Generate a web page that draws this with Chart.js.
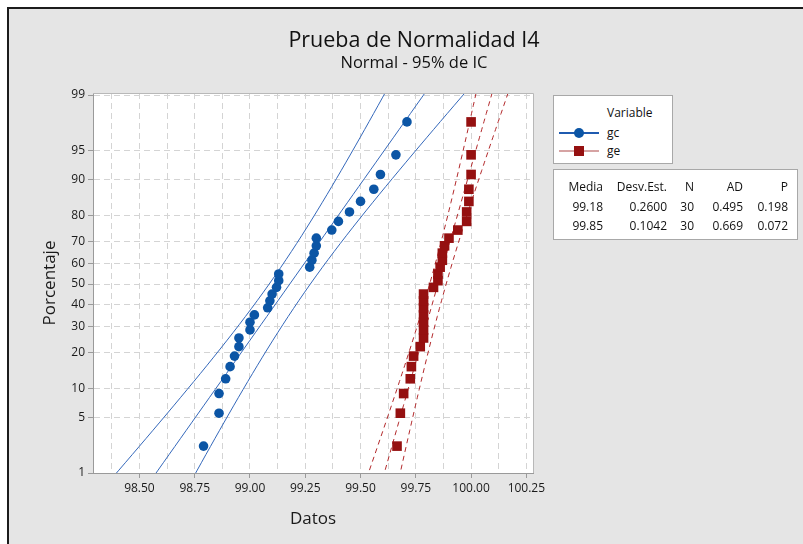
<!DOCTYPE html>
<html><head><meta charset="utf-8">
<script src="https://cdn.jsdelivr.net/npm/chart.js@4.4.1/dist/chart.umd.min.js"></script>
<style>
html,body{margin:0;padding:0;background:#fff;width:803px;height:544px;overflow:hidden;font-family:"Open Sans",sans-serif;color:#111;}
#frame{position:absolute;left:7px;top:7px;width:796px;height:537px;background:#e5e5e5;border-left:2px solid #1c1c1c;border-top:2px solid #1c1c1c;}
#c{position:absolute;left:0;top:0;}
.t1{position:absolute;left:214px;width:400px;top:24px;text-align:center;font-size:21.5px;line-height:30px;}
.t2{position:absolute;left:214px;width:400px;top:51px;text-align:center;font-size:16.5px;line-height:22px;}
.box{position:absolute;background:#fff;border:1px solid #a8a8a8;font-size:12px;}
.abs{position:absolute;white-space:nowrap;line-height:16px;}
</style></head>
<body>
<div id="frame"></div>
<canvas id="c" width="803" height="544"></canvas>
<div class="t1">Prueba de Normalidad I4</div>
<div class="t2">Normal - 95% de IC</div>
<div id="leg" class="box" style="left:553px;top:95px;width:118px;height:67px;"></div>
<div id="stats" class="box" style="left:553px;top:169px;width:243px;height:69px;"></div>
<script>
// ---- data ----
const seriesNames = ['gc', 'ge'];
const gcValues = [98.79,98.86,98.86,98.89,98.91,98.93,98.95,98.95,99.00,99.00,99.02,99.08,99.09,99.10,99.12,99.13,99.13,99.27,99.28,99.29,99.30,99.30,99.37,99.40,99.45,99.50,99.56,99.59,99.66,99.71];
const geValues = [99.665,99.68,99.695,99.725,99.73,99.74,99.77,99.785,99.785,99.785,99.785,99.785,99.785,99.785,99.83,99.85,99.85,99.86,99.87,99.87,99.88,99.90,99.94,99.98,99.98,99.99,99.99,100.00,100.00,100.00];
// plotting positions (median ranks, %) for n = 30
const plotPct = [2.30,5.59,8.88,12.17,15.46,18.75,22.04,25.33,28.62,31.91,35.20,38.49,41.78,45.07,48.36,51.64,54.93,58.22,61.51,64.80,68.09,71.38,74.67,77.96,81.25,84.54,87.83,91.12,94.41,97.70];
const statMedia = ['99.18', '99.85'];
const statDesv = ['0.2600', '0.1042'];
const statN = ['30', '30'];
const statAD = ['0.495', '0.669'];
const statP = ['0.198', '0.072'];
const yTickPct = [1,5,10,20,30,40,50,60,70,80,90,95,99];
const xTickMajor = [98.50,98.75,99.00,99.25,99.50,99.75,100.00,100.25];

// ---- helpers ----
function invNorm(p){
 const a=[-3.969683028665376e+01,2.209460984245205e+02,-2.759285104469687e+02,1.383577518672690e+02,-3.066479806614716e+01,2.506628277459239e+00];
 const b=[-5.447609879822406e+01,1.615858368580409e+02,-1.556989798598866e+02,6.680131188771972e+01,-1.328068155288572e+01];
 const c=[-7.784894002430293e-03,-3.223964580411365e-01,-2.400758277161838e+00,-2.549671010322563e+00,4.374664141464968e+00,2.938163982698783e+00];
 const d=[7.784695709041462e-03,3.224671290700398e-01,2.445134137142996e+00,3.754408661907416e+00];
 const pl=0.02425, ph=1-pl; let q,r;
 if(p<pl){q=Math.sqrt(-2*Math.log(p));return (((((c[0]*q+c[1])*q+c[2])*q+c[3])*q+c[4])*q+c[5])/((((d[0]*q+d[1])*q+d[2])*q+d[3])*q+1);}
 if(p>ph){q=Math.sqrt(-2*Math.log(1-p));return -(((((c[0]*q+c[1])*q+c[2])*q+c[3])*q+c[4])*q+c[5])/((((d[0]*q+d[1])*q+d[2])*q+d[3])*q+1);}
 q=p-0.5;r=q*q;return (((((a[0]*r+a[1])*r+a[2])*r+a[3])*r+a[4])*r+a[5])*q/(((((b[0]*r+b[1])*r+b[2])*r+b[3])*r+b[4])*r+1);
}
const toPts = vals => vals.map((v,i)=>({x:v, y:invNorm(plotPct[i]/100)}));
// fitted line and 95% CI from the table's mean / st.dev.
function fitLine(m, s, n, k){
  const pts=[];
  for(let i=0;i<=50;i++){ const z=-2.5+i*0.1; const h=1.96*s*Math.sqrt((1+z*z/2)/n); pts.push({x:m+z*s+k*h, y:z}); }
  return pts;
}
const colors = ['#0b55a5', '#951010'];
const lineCols = ['#3468bb', '#b3292b'];
const xGrid = [];
xTickMajor.forEach(v=>{ xGrid.push(v-0.125); xGrid.push(v); });
const isMajor = v => Math.abs(v*4-Math.round(v*4))<1e-6;

const datasets = [
  {label:'gc', data:toPts(gcValues), backgroundColor:colors[0], borderColor:colors[0], pointStyle:'circle', pointRadius:4.8, borderWidth:0},
  {label:'ge', data:toPts(geValues), backgroundColor:colors[1], borderColor:colors[1], pointStyle:'rect', pointRadius:6.8, borderWidth:0},
];
[0,1].forEach(si=>{
  const m=parseFloat(statMedia[si]), s=parseFloat(statDesv[si]), n=parseFloat(statN[si]);
  [-1,0,1].forEach(k=>{
    datasets.push({label:seriesNames[si]+'_fit'+k, data:fitLine(m,s,n,k), showLine:true, pointRadius:0, borderColor:lineCols[si], borderWidth:1, borderDash: si===1?[5,4]:[], tension:0, fill:false});
  });
});

const plotBg = {
  id:'plotBg',
  beforeDraw(chart){ const {ctx,chartArea:a}=chart; ctx.save(); ctx.fillStyle='#fff'; ctx.fillRect(a.left,a.top,a.right-a.left,a.bottom-a.top); ctx.restore(); },
  afterDraw(chart){ const {ctx,chartArea:a}=chart; ctx.save(); ctx.strokeStyle='#b8b8b8'; ctx.lineWidth=1; ctx.beginPath(); ctx.moveTo(a.left,a.top+0.5); ctx.lineTo(a.right+0.5,a.top+0.5); ctx.lineTo(a.right+0.5,a.bottom); ctx.stroke(); ctx.restore(); }
};

const tickFont = {family:'"Open Sans", sans-serif', size:12};
new Chart(document.getElementById('c'), {
  type:'scatter',
  data:{datasets},
  plugins:[plotBg],
  options:{
    responsive:false, animation:false, events:[],
    layout:{padding:{left:0, top:93, right:270, bottom:0}},
    plugins:{legend:{display:false}, tooltip:{enabled:false}},
    scales:{
      x:{
        type:'linear', min:98.29, max:100.28,
        afterBuildTicks: s => { s.ticks = xGrid.map(v=>({value:v})); },
        afterFit: s => { s.height = 71; },
        ticks:{autoSkip:false, maxRotation:0, padding:3, color:'#1a1a1a', font:tickFont,
          callback: v => isMajor(v) ? v.toFixed(2) : ''},
        grid:{color:'#d4d4d4', lineWidth:1, tickLength:5,
          tickColor: ctx => (ctx.tick && isMajor(ctx.tick.value)) ? '#9a9a9a' : 'rgba(0,0,0,0)'},
        border:{color:'#9a9a9a', width:1, dash:[6,4]},
        title:{display:true, text:'Datos', color:'#1a1a1a', font:{family:'"Open Sans", sans-serif', size:17}, padding:{top:4, bottom:15}}
      },
      y:{
        type:'linear', min:invNorm(0.01), max:invNorm(0.99)+0.025,
        afterBuildTicks: s => { s.ticks = yTickPct.map(p=>({value:invNorm(p/100)})); },
        afterFit: s => { s.width = 93; },
        ticks:{autoSkip:false, padding:3, color:'#1a1a1a', font:tickFont,
          callback: (v,i) => String(yTickPct[i])},
        grid:{color:'#d4d4d4', lineWidth:1, tickLength:5, tickColor:'#9a9a9a'},
        border:{color:'#9a9a9a', width:1, dash:[6,4]},
        title:{display:true, text:'Porcentaje', color:'#1a1a1a', font:{family:'"Open Sans", sans-serif', size:17}, padding:{top:40, bottom:4}}
      }
    }
  }
});

// ---- legend (HTML) ----
const leg = document.getElementById('leg');
let h = '<div class="abs" style="left:53px;top:9px;">Variable</div>';
const legLine = ['#1f5bb0', '#d6a3a3'];
seriesNames.forEach((nm,i)=>{
  const cy = 37 + i*18;
  h += `<div style="position:absolute;left:5px;top:${cy-1}px;width:40px;height:2px;background:${legLine[i]};"></div>`;
  if(i===0) h += `<div style="position:absolute;left:20px;top:${cy-5}px;width:10px;height:10px;border-radius:50%;background:${colors[0]};"></div>`;
  else h += `<div style="position:absolute;left:20px;top:${cy-5}px;width:10px;height:10px;background:${colors[1]};"></div>`;
  h += `<div class="abs" style="left:53px;top:${cy-8}px;">${nm}</div>`;
});
leg.innerHTML = h;

// ---- statistics table (HTML) ----
const st = document.getElementById('stats');
const colRight = [49,113,140,189,234];
const header = ['Media','Desv.Est.','N','AD','P'];
const rows = [header].concat(seriesNames.map((_,i)=>[statMedia[i],statDesv[i],statN[i],statAD[i],statP[i]]));
let sh = '';
rows.forEach((r,ri)=>{
  const cy = [17,36.5,56][ri];
  r.forEach((txt,ci)=>{ sh += `<div class="abs" style="left:${colRight[ci]-100}px;width:100px;text-align:right;top:${cy-8}px;">${txt}</div>`; });
});
st.innerHTML = sh;
</script>
</body></html>
